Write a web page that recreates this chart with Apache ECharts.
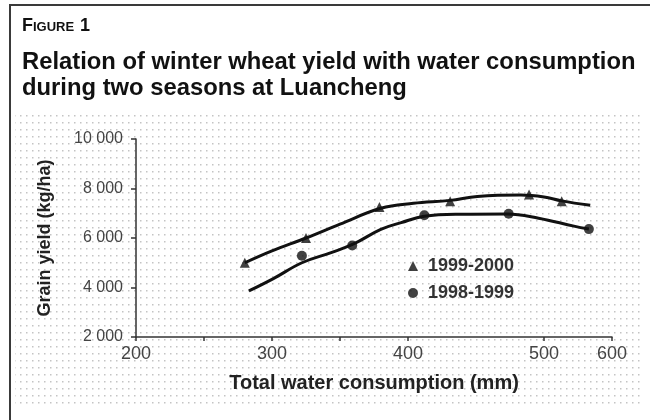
<!DOCTYPE html>
<html>
<head>
    <meta charset="utf-8">
    <title>Figure 1</title>
    <script src="https://cdn.jsdelivr.net/npm/echarts@6/dist/echarts.min.js"></script>
    <style>
        html, body { margin: 0; padding: 0; background: #fff; }
        #chart1 { width: 650px; height: 420px; }
    </style>
</head>
<body>
<div id="chart1"></div>
<script type="text/javascript">
    // 散点
    let points9900 = [[280, 5000], [325, 6000], [379, 7250], [431, 7480], [489, 7760], [513, 7480]];
    let points9899 = [[322, 5280], [359, 5700], [412, 6920], [474, 6980], [533, 6360]];

    // 拟合曲线, 沿原图曲线读点
    let curve9900 = [[280, 5000], [300, 5480], [325, 6000], [350, 6560], [380, 7200], [404, 7400],
        [431, 7520], [451, 7680], [483, 7740], [500, 7660], [513, 7500], [534, 7320]];
    let curve9899 = [[283, 3860], [301, 4360], [322, 5000], [343, 5400], [360, 5760], [380, 6350],
        [395, 6620], [412, 6880], [439, 6960], [473, 6970], [496, 6800], [522, 6480], [533, 6360]];

    let seriesNames = ['1999-2000', '1998-1999'];
    let xTickValues = [200, 250, 300, 350, 400, 500, 550];
    let xLabelValues = [200, 300, 400, 500, 550];
    let xLabelTexts = ['200', '300', '400', '500', '600'];

    // 背景点阵
    let dots = document.createElement('canvas');
    dots.width = 6;
    dots.height = 7;
    let ctx = dots.getContext('2d');
    ctx.fillStyle = '#c4c4c4';
    ctx.fillRect(2, 3, 1.5, 1.5);

    let font = '"Liberation Sans", Arial';
    let myChart1 = echarts.init(document.getElementById('chart1'));

    myChart1.setOption({
        animation: false,
        graphic: [
            { type: 'rect', z: -10, shape: { x: 15, y: 114, width: 628, height: 290 },
                style: { fill: { image: dots, repeat: 'repeat' } } },
            { type: 'polyline', shape: { points: [[10, 420], [10, 5], [650, 5]] },
                style: { stroke: '#3a3a3a', lineWidth: 2, fill: null } },
            { type: 'text', left: 22, top: 17, style: { text: 'F', font: 'bold 18px ' + font, fill: '#111' } },
            { type: 'text', left: 33, top: 21, style: { text: 'IGURE', font: 'bold 13px ' + font, fill: '#111' } },
            { type: 'text', left: 80, top: 17, style: { text: '1', font: 'bold 18px ' + font, fill: '#111' } },
            { type: 'text', left: 22, top: 49, style: {
                    text: 'Relation of winter wheat yield with water consumption\nduring two seasons at Luancheng',
                    font: 'bold 23.8px ' + font, lineHeight: 26, fill: '#111' } }
        ],
        grid: { left: 136, right: 38, top: 139, bottom: 83 },
        legend: {
            left: 403, top: 252, orient: 'vertical', itemGap: 9,
            itemWidth: 10, itemHeight: 10,
            textStyle: { fontFamily: font, fontSize: 18, fontWeight: 'bold', color: '#333', padding: [0, 0, 0, 5] },
            data: [
                { name: seriesNames[0], icon: 'triangle' },
                { name: seriesNames[1], icon: 'circle' }
            ]
        },
        xAxis: {
            type: 'value', min: 200, max: 550,
            name: 'Total water consumption (mm)', nameLocation: 'middle', nameGap: 36,
            nameTextStyle: { fontFamily: font, fontSize: 20, fontWeight: 'bold', color: '#222' },
            axisLine: { lineStyle: { color: '#333', width: 1.5 } },
            axisTick: { inside: false, length: 4, customValues: xTickValues, lineStyle: { color: '#333', width: 1.5 } },
            axisLabel: {
                customValues: xLabelValues, margin: 8,
                fontFamily: font, fontSize: 18, color: '#444',
                formatter: function (v) { return xLabelTexts[xLabelValues.indexOf(v)]; }
            },
            splitLine: { show: false }
        },
        yAxis: {
            type: 'value', min: 2000, max: 10000, interval: 2000,
            name: 'Grain yield (kg/ha)', nameLocation: 'middle', nameGap: 82,
            nameTextStyle: { fontFamily: font, fontSize: 18, fontWeight: 'bold', color: '#222' },
            axisLine: { show: true, lineStyle: { color: '#333', width: 1.5 } },
            axisTick: { show: true, length: 5, lineStyle: { color: '#333', width: 1.5 } },
            axisLabel: {
                margin: 13, fontFamily: font, fontSize: 16, color: '#444',
                formatter: function (v) { return String(v).replace(/\B(?=(\d{3})+(?!\d))/g, ' '); }
            },
            splitLine: { show: false }
        },
        series: [
            { name: 'curve9900', type: 'line', data: curve9900, smooth: 0.4, showSymbol: false, silent: true,
                lineStyle: { color: '#111', width: 3 } },
            { name: 'curve9899', type: 'line', data: curve9899, smooth: 0.4, showSymbol: false, silent: true,
                lineStyle: { color: '#111', width: 3 } },
            { name: seriesNames[0], type: 'scatter', data: points9900, symbol: 'triangle', symbolSize: 10,
                itemStyle: { color: '#111' } },
            { name: seriesNames[1], type: 'scatter', data: points9899, symbol: 'circle', symbolSize: 10,
                itemStyle: { color: '#111' } }
        ]
    });
</script>
</body>
</html>
